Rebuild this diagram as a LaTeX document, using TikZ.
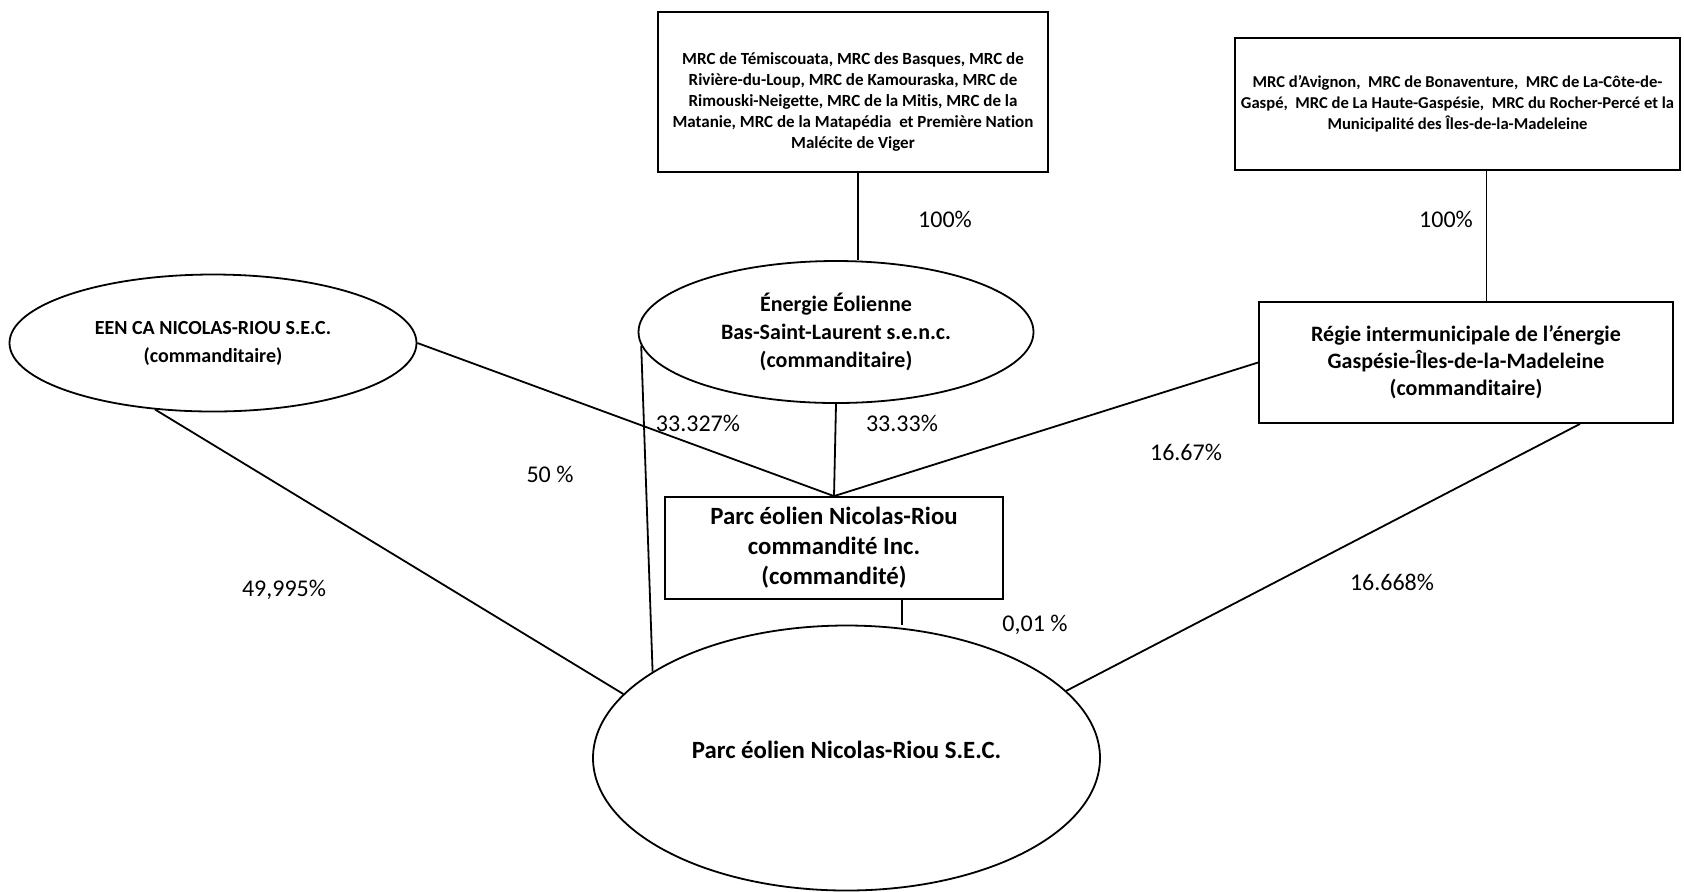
\documentclass[tikz,border=0pt]{standalone}
\usepackage{fontspec}
\setmainfont{Carlito}[Ligatures={TeX,NoCommon}]
\usepackage{tikz}
\usetikzlibrary{shapes.geometric, calc}

\begin{document}
\begin{tikzpicture}[x=0.5pt, y=-0.5pt, line width=0.9pt,
  box/.style={draw, rectangle, align=center, inner sep=0pt, font=\bfseries\fontsize{11}{13.5}\selectfont},
  mrcbox/.style={draw, rectangle, align=center, inner sep=0pt, font=\bfseries\fontsize{8.5}{10.4}\selectfont},
  oval/.style={draw, ellipse, align=center, inner sep=0pt, font=\bfseries\fontsize{11}{14}\selectfont},
  big/.style={font=\bfseries\fontsize{12.4}{15}\selectfont},
  pct/.style={font=\fontsize{12}{14}\selectfont, inner sep=0pt}]
\useasboundingbox (0,0) rectangle (1684,891);
\fill[white] (0,0) rectangle (1684,891);

\node[mrcbox, minimum width=195pt, minimum height=80pt] (mrcbsl) at (853,92)
  {\rule{0pt}{16pt}MRC de Témiscouata, MRC des Basques, MRC de\\
   Rivière-du-Loup, MRC de Kamouraska, MRC de\\
   Rimouski-Neigette, MRC de la Mitis, MRC de la\\
   Matanie, MRC de la Matapédia\ \ et Première Nation\\
   Malécite de Viger};
\node[mrcbox, minimum width=222.5pt, minimum height=66pt,
  font=\bfseries\fontsize{8.3}{10.5}\selectfont] (mrcgim) at (1457.5,104)
  {MRC d’Avignon,\ \ MRC de Bonaventure,\ \ MRC de La-Côte-de-\\
   Gaspé,\ \ MRC de La Haute-Gaspésie,\ \ MRC du Rocher-Percé et la\\
   Municipalité des Îles-de-la-Madeleine};

\node[oval, minimum width=203.5pt, minimum height=68.5pt,
  font=\bfseries\fontsize{10}{14}\selectfont] (een) at (213,343)
  {EEN CA NICOLAS-RIOU S.E.C.\\(commanditaire)};
\node[oval, minimum width=197.5pt, minimum height=71pt] (energie) at (836,332)
  {Énergie Éolienne\\Bas-Saint-Laurent s.e.n.c.\\(commanditaire)};
\node[box, minimum width=207pt, minimum height=60.5pt] (regie) at (1466,362.5)
  {Régie intermunicipale de l'énergie\\Gaspésie-Îles-de-la-Madeleine\\(commanditaire)};
\node[box, big, minimum width=169pt, minimum height=51pt] (commandite) at (834,548)
  {Parc éolien Nicolas-Riou\\commandité Inc.\\(commandité)};
\node[oval, big, minimum width=253.5pt, minimum height=132.5pt] (sec) at (846.5,758)
  {Parc éolien Nicolas-Riou S.E.C.\rule[-8pt]{0pt}{8pt}};

\draw ([xshift=2.5pt]mrcbsl.south) -- ([xshift=2.5pt]mrcbsl.south |- energie.north);
\draw ([xshift=14.5pt]mrcgim.south) -- ([xshift=14.5pt]mrcgim.south |- regie.north);
\draw (energie.south) -- (commandite.north);
\draw (een.east) -- (commandite.north);
\draw (regie.west) -- (commandite.north);
\draw ([xshift=34pt]commandite.south) -- ([xshift=34pt]commandite.south |- sec.north);
\draw (energie.184) -- (sec.156);
\draw (een.229) -- (sec.164);
\draw ([xshift=57pt]regie.south) -- (sec.17);

\node[pct] (pbsl) at (945,219) {100\%};
\node[pct] (pgim) at (1446,219) {100\%};
\node[pct] (pensec) at (698,423) {33.327\%};
\node[pct] (pencom) at (902,423) {33.33\%};
\node[pct] (peencom) at (550,474) {50 \%};
\node[pct] (pregcom) at (1186,452) {16.67\%};
\node[pct] (peensec) at (284,590) {49,995\%};
\node[pct] (pregsec) at (1392,582) {16.668\%};
\node[pct] (pcomsec) at (1035,625) {0,01 \%};
\end{tikzpicture}
\end{document}
